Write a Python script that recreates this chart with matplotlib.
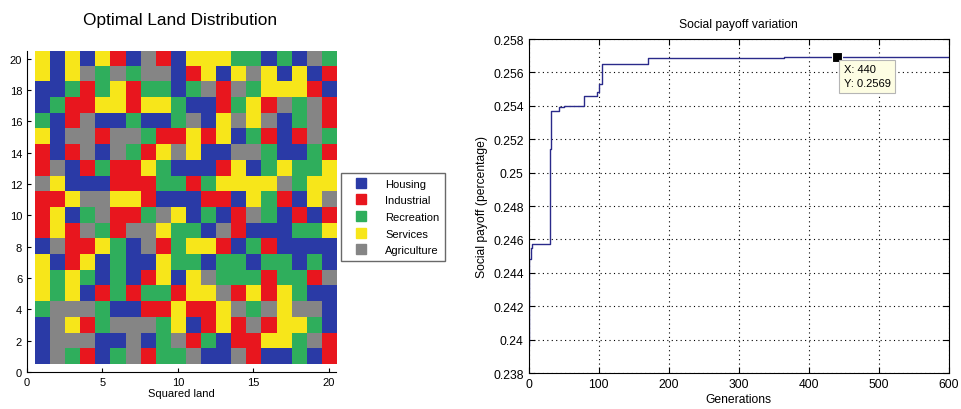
import numpy as np
import matplotlib
matplotlib.use("Agg")
import matplotlib.pyplot as plt
from matplotlib.colors import ListedColormap
from matplotlib.lines import Line2D

plt.rcParams['font.family'] = ['Liberation Sans', 'DejaVu Sans']

# land use categories (letter code -> name)
codes = ['H', 'I', 'R', 'S', 'A']
names = ['Housing', 'Industrial', 'Recreation', 'Services', 'Agriculture']
colors = ['#2a3aa6', '#e8161e', '#2fae5c', '#f7e61a', '#858585']

# 20x20 land grid, top row (y=20) first
land_rows = [
    "SHSHSIHAIHSSSRRHRHAR",
    "SHSARARAAHISHSASHSHI",
    "HHRIRSIRRHRAIARSSSIH",
    "HRIISSISSRHHIRSIARAI",
    "RHIAHHRHHRAHSASAHRAI",
    "SHAAIAARIISISHRIHIAR",
    "IHIAHARISASHHAARHHRI",
    "IAHIRIISRHHHISHRSRRS",
    "ASHHHIIIRRIRSSSSARSS",
    "IISAASSIHHHIIHSRIHSA",
    "ISHRAIIRASHRHIARHIHI",
    "ISIARIAASRRHAIHHHRRS",
    "HAIISRHAIRSSIHRIHHHH",
    "SHISHRHHSRRHRRHRRHRH",
    "SRSRHRHISHSARRRIRRIA",
    "SRSHIRIRRISSAISISRHH",
    "RAAARHHIISIISARASAAH",
    "HASIRAAARSHISIAISSRH",
    "HAAAHHAHRAIRHIISSRAI",
    "HARIHRAIRRAHHAIHHRHI",
]

# social payoff: generation where value changes, new value
gen_steps = [0, 1, 3, 5, 31, 32, 44, 51, 79, 98, 100, 105, 170, 364, 600]
payoff = [0.2397, 0.2448, 0.2455, 0.2457, 0.2514, 0.2537, 0.2539, 0.2540,
          0.2546, 0.2548, 0.2553, 0.2565, 0.25688, 0.2569, 0.2569]
tip_x = 440
tip_y = 0.2569
y_ticks = [0.238, 0.24, 0.242, 0.244, 0.246, 0.248, 0.25, 0.252, 0.254, 0.256, 0.258]
y_tick_labels = ['0.238', '0.24', '0.242', '0.244', '0.246', '0.248', '0.25',
                 '0.252', '0.254', '0.256', '0.258']

fig = plt.figure(figsize=(9.61, 4.10), dpi=100)

# ---- left: land map ----
grid = np.array([[codes.index(c) for c in row] for row in land_rows])
ax1 = fig.add_axes([0.0281, 0.0902, 0.322, 0.783])
ax1.imshow(grid, cmap=ListedColormap(colors), vmin=-0.5, vmax=4.5,
           extent=(0.5, 20.5, 0.5, 20.5), origin='upper', aspect='auto',
           interpolation='nearest')
ax1.set_xlim(0, 20.5)
ax1.set_ylim(0, 20.5)
ax1.set_xticks([0, 5, 10, 15, 20])
ax1.set_yticks(range(0, 21, 2))
ax1.tick_params(direction='in', labelsize=8, length=3)
ax1.spines['top'].set_visible(False)
ax1.spines['right'].set_visible(False)
ax1.set_xlabel("Squared land", fontsize=8, labelpad=1)
fig.text(180 / 961, 1 - 21 / 410, "Optimal Land Distribution", fontsize=12.4,
         ha='center', va='center')

handles = [Line2D([], [], marker='s', linestyle='none', color=c, markersize=7)
           for c in colors]
fig.legend(handles, names, loc='upper left', bbox_to_anchor=(341 / 961, 1 - 174 / 410),
           fontsize=8, frameon=True, fancybox=False, edgecolor='#444444',
           handletextpad=0.9, borderpad=0.5, labelspacing=0.6, handlelength=2.6,
           borderaxespad=0)

# ---- right: payoff curve ----
ax2 = fig.add_axes([0.55, 0.0878, 0.4375, 0.8146])
ax2.plot(gen_steps, payoff, drawstyle='steps-post', color='#2a2a8a', lw=1.0)
ax2.set_xlim(0, 600)
ax2.set_ylim(0.238, 0.258)
ax2.set_xticks(range(0, 601, 100))
ax2.set_yticks(y_ticks)
ax2.set_yticklabels(y_tick_labels)
ax2.grid(True, color='black', linestyle=(0, (1, 3)), linewidth=0.8)
ax2.tick_params(direction='in', labelsize=8.7, length=4, top=True, right=True)
for s in ax2.spines.values():
    s.set_linewidth(0.8)
ax2.set_title("Social payoff variation", fontsize=8.7, pad=9)
ax2.set_xlabel("Generations", fontsize=8.7, labelpad=2)
ax2.set_ylabel("Social payoff (percentage)", fontsize=8.7, labelpad=4)

ax2.plot([tip_x], [tip_y], marker='s', color='black', markersize=7,
         markeredgecolor='white', markeredgewidth=0.8)
ax2.annotate("X: %d\nY: %.4f" % (tip_x, tip_y), xy=(tip_x, tip_y),
             xytext=(5, -5), textcoords='offset points', ha='left', va='top',
             fontsize=8, linespacing=1.5,
             bbox=dict(boxstyle='square,pad=0.4', fc='#fdfde3', ec='#b5b5b5', lw=0.8))

fig.savefig("out.png", dpi=100)
